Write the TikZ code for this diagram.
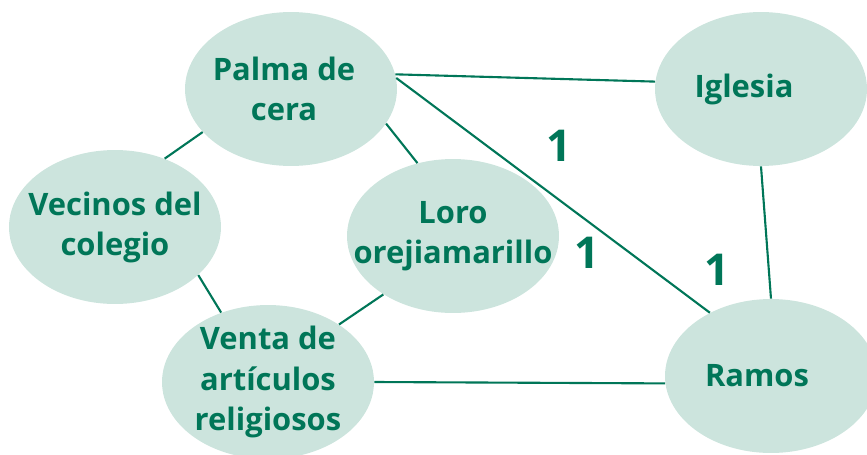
\documentclass[tikz,border=0pt]{standalone}
\usepackage{fontspec}
\setmainfont{Open Sans}
\usepackage{tikz}
\usetikzlibrary{shapes,positioning}
\usepackage{xcolor}
\definecolor{mapgreen}{RGB}{0,118,88}
\definecolor{mapmint}{RGB}{204,228,221}
\tikzstyle{topic} = [ellipse,fill=mapmint,minimum width=4.24cm,minimum height=3.08cm,
  inner xsep=-0.6cm,inner ysep=-0.3cm,
  align=center,text=mapgreen,font=\fontsize{17.6}{22.8}\selectfont\bfseries]
\tikzstyle{link} = [line width=1.2pt,color=mapgreen]
\tikzstyle{weight} = [text=mapgreen,font=\fontsize{25}{30}\selectfont\bfseries]

\begin{document}
\begin{tikzpicture}[x=0.02cm,y=-0.02cm]
\clip (0,0) rectangle (867,454);
\useasboundingbox (0,0) rectangle (867,454);

% Ideas
\node[topic] (palma) at (291,89) {Palma de\hspace*{0.28cm}\\cera\hspace*{0.28cm}};
\node[topic] (iglesia) at (761,89) {Iglesia\hspace{0.68cm}};
\node[topic] (vecinos) at (115,227) {Vecinos del\\colegio};
\node[topic] (loro) at (453,236) {Loro\\orejiamarillo};
\node[topic] (venta) at (268,382) {Venta de\\artículos\\religiosos};
\node[topic] (ramos) at (771,376) {Ramos\hspace{0.56cm}};

% Links
\draw[link] (palma.8) -- (iglesia.176);
\draw[link] (palma.6) -- (ramos.134);
\draw[link] (palma.206) -- (vecinos.54);
\draw[link] (palma.340) -- (loro.116);
\draw[link] (vecinos.330) -- (venta.124);
\draw[link] (loro.220) -- (venta.39);
\draw[link] (venta.east) -- (ramos.184);
\draw[link] (iglesia.south) -- (ramos.north);

% Weights
\node[weight] (one1) at (559,146) {1};
\node[weight] (one2) at (587,253) {1};
\node[weight] (one3) at (717,270) {1};
\end{tikzpicture}
\end{document}
